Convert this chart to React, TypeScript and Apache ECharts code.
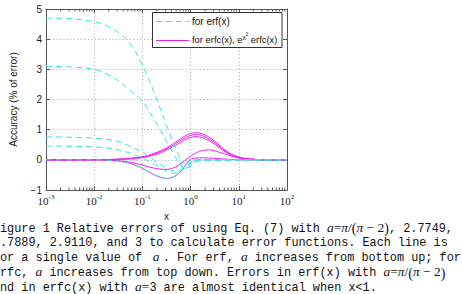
import React, { useEffect, useRef } from 'react';
import * as echarts from 'echarts';

// Sample positions along x, given as powers of ten
const exponents = [-3, -2.5, -2, -1.75, -1.5, -1.25, -1, -0.875, -0.75, -0.625, -0.5, -0.375, -0.25, -0.125, 0, 0.125, 0.25, 0.375, 0.5, 0.75, 1, 1.25, 1.5, 2];

// Relative error (%) of erf(x) for each a
const erfA3 = [4.7, 4.68, 4.58, 4.45, 4.22, 3.85, 3.15, 2.7, 2.2, 1.68, 1.15, 0.62, 0.18, -0.3, -0.18, -0.03, 0, 0, 0, 0, 0, 0, 0, 0];
const erfA2911 = [3.1, 3.08, 3.0, 2.85, 2.62, 2.3, 1.95, 1.65, 1.32, 0.97, 0.62, 0.25, -0.07, -0.3, -0.2, -0.04, 0, 0, 0, 0, 0, 0, 0, 0];
const erfA2789 = [0.76, 0.75, 0.72, 0.68, 0.6, 0.45, 0.25, 0.12, -0.02, -0.15, -0.27, -0.35, -0.36, -0.25, -0.08, -0.01, 0, 0, 0, 0, 0, 0, 0, 0];
const erfA2775 = [0.46, 0.45, 0.43, 0.4, 0.33, 0.22, 0.06, -0.04, -0.15, -0.27, -0.37, -0.44, -0.42, -0.28, -0.09, -0.01, 0, 0, 0, 0, 0, 0, 0, 0];
const erfAPi = [0, 0, 0, -0.01, -0.04, -0.12, -0.28, -0.39, -0.5, -0.58, -0.62, -0.58, -0.45, -0.22, 0.01, 0, 0, 0, 0, 0, 0, 0, 0, 0];

// Relative error (%) of erfc(x) and e^(x^2) erfc(x) for each a
const erfcAPi = [0, 0, 0.005, 0.01, 0.02, 0.05, 0.1, 0.15, 0.22, 0.3, 0.4, 0.52, 0.65, 0.78, 0.87, 0.9, 0.86, 0.76, 0.62, 0.28, 0.09, 0.03, 0.005, 0];
const erfcA2775 = [0, 0, 0.004, 0.01, 0.02, 0.04, 0.09, 0.13, 0.19, 0.27, 0.36, 0.47, 0.6, 0.72, 0.81, 0.84, 0.8, 0.7, 0.57, 0.26, 0.08, 0.025, 0.005, 0];
const erfcA2789 = [0, 0, 0.003, 0.008, 0.015, 0.03, 0.07, 0.11, 0.16, 0.23, 0.32, 0.42, 0.54, 0.66, 0.74, 0.77, 0.73, 0.64, 0.52, 0.23, 0.07, 0.02, 0.004, 0];
const erfcA2911 = [0, 0, 0, -0.01, -0.03, -0.08, -0.17, -0.23, -0.28, -0.31, -0.32, -0.28, -0.18, -0.03, 0.12, 0.24, 0.31, 0.33, 0.3, 0.17, 0.06, 0.015, 0, 0];
const erfcA3 = [0, 0, 0, -0.01, -0.04, -0.12, -0.28, -0.39, -0.5, -0.58, -0.62, -0.58, -0.45, -0.22, 0.02, 0.06, 0.07, 0.06, 0.05, 0.02, 0.005, 0, 0, 0];

const erfSeries = [erfA3, erfA2911, erfA2789, erfA2775, erfAPi];
const erfcSeries = [erfcAPi, erfcA2775, erfcA2789, erfcA2911, erfcA3];

const decades = [-3, -2, -1, 0, 1];
const minorMultipliers = [2, 3, 4, 5, 6, 7, 8, 9];

const legendErf = 'for erf(x)';
const legendErfc = '{t|for erfc(x), e}{s|x}{ss|2}{t| erfc(x)}';

// Caption below the plot (its left edge runs off the page)
const captionLines = [
  '{m|igure 1 Relative errors of using Eq. (7) with }{i|a}{r|=}{i|π}{r|/}{p|(}{i|π}{r| − 2}{p|)}{m|, 2.7749,}',
  '{m|.7889, 2.9110, and 3 to calculate error functions. Each line is}',
  '{m|or a single value of }{i| a }{m|. For erf, }{i|a}{m| increases from bottom up; for}',
  '{m|rfc, }{i|a}{m| increases from top down. Errors in erf(x) with }{i|a}{r|=}{i|π}{r|/}{p|(}{i|π}{r| − 2}{p|)}',
  '{m|nd in erfc(x) with }{i|a}{r|=}{m|3 are almost identical when x<1.}',
];

const CYAN = '#2ee6e6';
const MAGENTA = '#f020f0';
const AXIS = '#555';

export default function App() {
  const ref = useRef<HTMLDivElement>(null);

  useEffect(() => {
    if (!ref.current) return;
    const chart = echarts.init(ref.current, null, { renderer: 'svg' });

    const toPoints = (ys: number[]) => exponents.map((e, i) => [Math.pow(10, e), ys[i]]);
    const minorTicks: number[][] = [];
    decades.forEach((d) => minorMultipliers.forEach((m) => minorTicks.push([m * Math.pow(10, d), -1])));

    const magentaLines = erfcSeries.map((ys) => ({
      type: 'line',
      data: toPoints(ys),
      showSymbol: false,
      smooth: 0.35,
      lineStyle: { color: MAGENTA, width: 1 },
      z: 3,
    }));
    const cyanLines = erfSeries.map((ys) => ({
      type: 'line',
      data: toPoints(ys),
      showSymbol: false,
      smooth: 0.35,
      lineStyle: { color: CYAN, width: 1, type: [6, 4] },
      z: 4,
    }));

    const xRich = {
      b: { fontFamily: 'Liberation Serif', fontSize: 11, color: '#222', verticalAlign: 'bottom', lineHeight: 13 },
      s: { fontFamily: 'Liberation Serif', fontSize: 7, color: '#222', verticalAlign: 'top', lineHeight: 8, padding: [0, 0, 7, 0] },
    };

    const serifToken = { fill: '#111', lineHeight: 11, verticalAlign: 'middle', padding: [0, 0, 3, 0] };
    const captionGraphics = captionLines.map((text, i) => ({
      type: 'text',
      x: 0,
      y: 228.5 + i * 14.9,
      style: {
        text,
        fill: '#111',
        textVerticalAlign: 'middle',
        rich: {
          m: { fontFamily: 'Liberation Mono', fontSize: 11.85, fill: '#111', lineHeight: 12, verticalAlign: 'middle' },
          i: { ...serifToken, fontFamily: 'Liberation Serif', fontStyle: 'italic', fontSize: 13.5 },
          r: { ...serifToken, fontFamily: 'Liberation Serif', fontSize: 13.5 },
          p: { fill: '#111', lineHeight: 11, verticalAlign: 'middle', fontFamily: 'Liberation Serif', fontSize: 14 },
        },
      },
    }));

    chart.setOption({
      animation: false,
      backgroundColor: '#fff',
      grid: { left: 33, right: 175, top: 9, bottom: 104, containLabel: false },
      xAxis: [
        {
          type: 'log',
          logBase: 10,
          min: 0.001,
          max: 100,
          position: 'bottom',
          axisLine: { show: true, onZero: false, lineStyle: { color: AXIS, width: 1 } },
          axisTick: { show: true, inside: true, length: 4, lineStyle: { color: AXIS } },
          axisLabel: {
            margin: 3,
            formatter: (v: number) => `{b|10}{s|${Math.round(Math.log10(v))}}`,
            rich: xRich,
          },
          splitLine: { show: true, lineStyle: { color: '#aaa', type: [1, 2.5], width: 1 } },
          name: 'x',
          nameLocation: 'middle',
          nameGap: 12,
          nameTextStyle: { fontFamily: 'Liberation Sans', fontSize: 10, color: '#222' },
        },
        {
          type: 'log',
          logBase: 10,
          min: 0.001,
          max: 100,
          position: 'top',
          axisLine: { show: true, onZero: false, lineStyle: { color: AXIS, width: 1 } },
          axisTick: { show: true, inside: true, length: 4, lineStyle: { color: AXIS } },
          axisLabel: { show: false },
          splitLine: { show: false },
        },
      ],
      yAxis: [
        {
          type: 'value',
          min: -1,
          max: 5,
          interval: 1,
          axisLine: { show: true, onZero: false, lineStyle: { color: AXIS, width: 1 } },
          axisTick: { show: true, inside: true, length: 4, lineStyle: { color: AXIS } },
          axisLabel: {
            margin: 4,
            fontFamily: 'Liberation Sans',
            fontSize: 10,
            color: '#222',
            formatter: (v: number) => (v < 0 ? '\u2212' + -v : String(v)),
          },
          splitLine: { show: true, lineStyle: { color: '#aaa', type: [1, 2.5], width: 1 } },
          name: 'Accuracy (% of error)',
          nameLocation: 'middle',
          nameGap: 28,
          nameTextStyle: { fontFamily: 'Liberation Sans', fontSize: 10, color: '#222' },
        },
        {
          type: 'value',
          min: -1,
          max: 5,
          interval: 1,
          position: 'right',
          axisLine: { show: true, onZero: false, lineStyle: { color: AXIS, width: 1 } },
          axisTick: { show: true, inside: true, length: 4, lineStyle: { color: AXIS } },
          axisLabel: { show: false },
          splitLine: { show: false },
        },
      ],
      series: [
        ...magentaLines,
        ...cyanLines,
        {
          type: 'custom',
          xAxisIndex: 0,
          yAxisIndex: 0,
          silent: true,
          clip: false,
          z: 5,
          data: minorTicks,
          renderItem: (_params: any, api: any) => {
            const x = api.value(0);
            const b = api.coord([x, -1]);
            const t = api.coord([x, 5]);
            return {
              type: 'group',
              children: [
                { type: 'line', shape: { x1: b[0], y1: b[1], x2: b[0], y2: b[1] - 2.5 }, style: { stroke: AXIS, lineWidth: 1 } },
                { type: 'line', shape: { x1: t[0], y1: t[1], x2: t[0], y2: t[1] + 2.5 }, style: { stroke: AXIS, lineWidth: 1 } },
              ],
            };
          },
        },
      ],
      graphic: [
        {
          type: 'rect',
          z: 10,
          shape: { x: 152.5, y: 12.5, width: 129.5, height: 35 },
          style: { fill: '#fff', stroke: '#333', lineWidth: 1 },
        },
        {
          type: 'line',
          z: 11,
          shape: { x1: 156, y1: 21.5, x2: 189, y2: 21.5 },
          style: { stroke: CYAN, lineWidth: 1, lineDash: [6, 4] },
        },
        {
          type: 'text',
          z: 11,
          x: 192,
          y: 21.5,
          style: { text: legendErf, fill: '#111', font: '10px "Liberation Sans"', textVerticalAlign: 'middle' },
        },
        {
          type: 'line',
          z: 11,
          shape: { x1: 156, y1: 40.5, x2: 189, y2: 40.5 },
          style: { stroke: MAGENTA, lineWidth: 1 },
        },
        {
          type: 'text',
          z: 11,
          x: 192,
          y: 38,
          style: {
            text: legendErfc,
            fill: '#111',
            textVerticalAlign: 'middle',
            rich: {
              t: { fontFamily: 'Liberation Sans', fontSize: 9.4, fill: '#111', verticalAlign: 'bottom', lineHeight: 12 },
              s: { fontFamily: 'Liberation Sans', fontSize: 6.5, fill: '#111', verticalAlign: 'top', lineHeight: 8, padding: [2, 0, 6, 0] },
              ss: { fontFamily: 'Liberation Sans', fontSize: 4.5, fill: '#111', verticalAlign: 'top', lineHeight: 6, padding: [0, 0, 10, 0] },
            },
          },
        },
        ...captionGraphics,
      ],
    });

    return () => chart.dispose();
  }, []);

  return <div ref={ref} style={{ position: 'fixed', left: 0, top: 0, width: 462, height: 294 }} />;
}
